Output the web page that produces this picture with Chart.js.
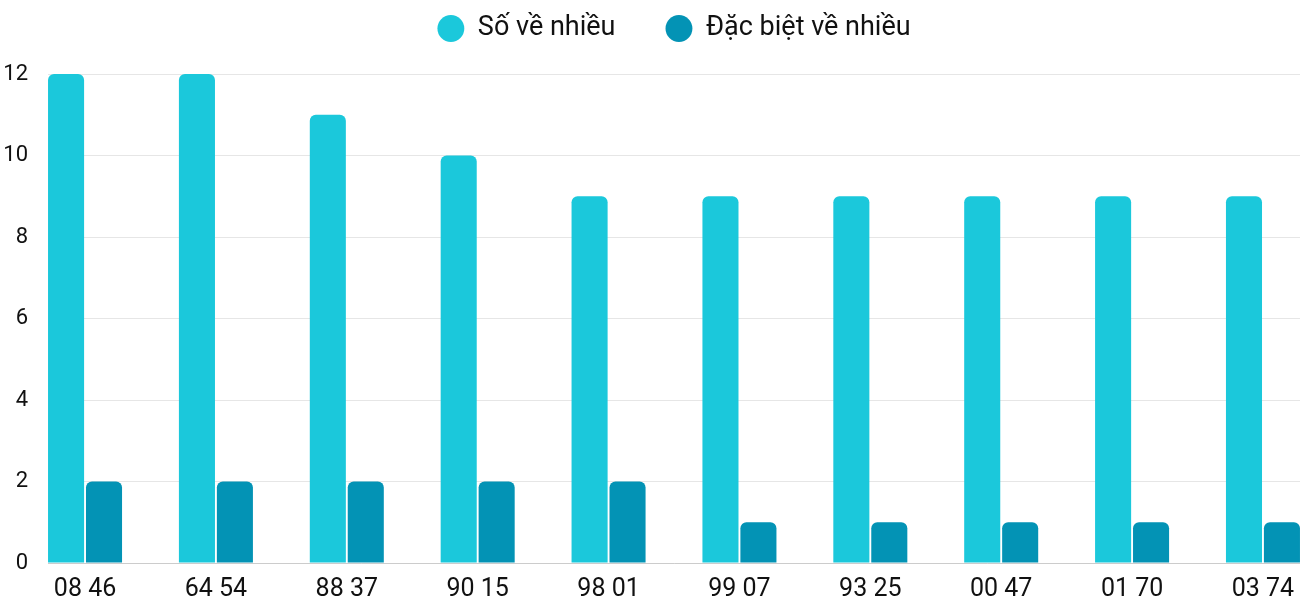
<!DOCTYPE html>
<html>
<head>
<meta charset="utf-8">
<script src="https://cdn.jsdelivr.net/npm/chart.js@4.4.1/dist/chart.umd.min.js"></script>
<style>
  html, body { margin: 0; padding: 0; background: #fff; }
  #wrap { width: 1300px; height: 600px; position: relative; }
</style>
</head>
<body>
<div id="wrap"><canvas id="chart"></canvas></div>
<script>
// cặp số và số lần về
const labels = ['08 46', '64 54', '88 37', '90 15', '98 01', '99 07', '93 25', '00 47', '01 70', '03 74'];
const soVeNhieu = [12, 12, 11, 10, 9, 9, 9, 9, 9, 9];
const dacBietVeNhieu = [2, 2, 2, 2, 2, 1, 1, 1, 1, 1];
const yTicks = [0, 2, 4, 6, 8, 10, 12];

const FONT = "Roboto, 'Noto Sans', sans-serif";

// chú thích: giữ khoảng cách ngang lớn nhưng chiều cao cố định
const legendHeight = {
  id: 'legendHeight',
  beforeInit(chart) {
    const fitValue = chart.legend.fit;
    chart.legend.fit = function fit() {
      fitValue.bind(chart.legend)();
      this.height = 109;
    };
  }
};

const ctx = document.getElementById('chart').getContext('2d');

const cfg = {
  type: 'bar',
  data: {
    datasets: [{
        label: 'Số về nhiều',
        data: soVeNhieu.map((v, i) => ({ x: i, y: v })),
        backgroundColor: '#1BC8DB',
        borderRadius: { topLeft: 6, topRight: 6 },
        borderSkipped: 'bottom'
      },
      {
        label: 'Đặc biệt về nhiều',
        data: dacBietVeNhieu.map((v, i) => ({ x: i, y: v })),
        backgroundColor: '#0393B5',
        borderRadius: { topLeft: 6, topRight: 6 },
        borderSkipped: 'bottom'
      }
    ]
  },
  options: {
    responsive: true,
    maintainAspectRatio: false,
    animation: false,
    categoryPercentage: 0.58,
    barPercentage: 0.95,
    layout: { padding: { left: 0, right: 0, top: -35, bottom: 0 } },
    plugins: {
      legend: {
        position: 'top',
        fullSize: false,
        labels: {
          usePointStyle: true,
          pointStyle: 'circle',
          boxWidth: 27,
          boxHeight: 19,
          padding: 50,
          color: '#111',
          font: { family: FONT, size: 27 }
        }
      },
      tooltip: { enabled: false }
    },
    scales: {
      x: {
        type: 'linear',
        offset: false,
        min: -0.283,
        max: 9.283,
        grid: { display: false, drawTicks: false },
        border: { display: true, color: '#cccccc' },
        afterFit: (scale) => {
          scale.height = 37;
          scale.paddingLeft = 0;
          scale.paddingRight = 0;
        },
        ticks: {
          stepSize: 1,
          includeBounds: false,
          autoSkip: false,
          maxRotation: 0,
          padding: 12,
          color: '#111',
          font: { family: FONT, size: 25 },
          callback: (v) => labels[v] ?? ''
        }
      },
      y: {
        min: yTicks[0],
        max: yTicks[yTicks.length - 1],
        grid: { color: '#e6e6e6', drawTicks: false },
        border: { display: false },
        afterBuildTicks: (scale) => { scale.ticks = yTicks.map(v => ({ value: v })); },
        afterFit: (scale) => { scale.width = 48; },
        ticks: {
          padding: 20,
          color: '#111',
          font: { family: FONT, size: 22 }
        }
      }
    }
  },
  plugins: [legendHeight]
};

const chart = new Chart(ctx, cfg);
</script>
</body>
</html>
